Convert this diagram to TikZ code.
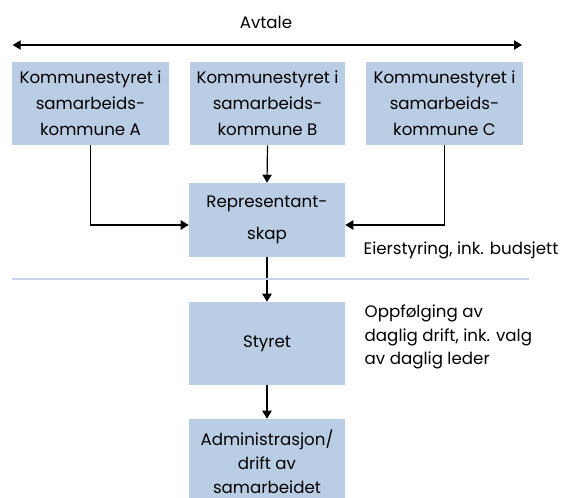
\documentclass[tikz,border=0pt]{standalone}
\usepackage{fontspec}
\setmainfont{Poppins}
\usetikzlibrary{arrows.meta}
\definecolor{boxblue}{RGB}{185,205,229}
\definecolor{sepblue}{RGB}{200,210,236}

\begin{document}
\begin{tikzpicture}[x=0.75pt,y=-0.75pt,
  font=\fontsize{12.5}{19.5}\selectfont,
  box/.style={fill=boxblue, inner sep=0pt, align=center, minimum width=117pt, minimum height=62.25pt},
  arr/.style={line width=0.9pt, -{Triangle[length=6pt,width=7pt]}}]
\useasboundingbox (0,0) rectangle (561,498);
\node (avtale) at (266,22){Avtale};
\coordinate (avL) at (12.7,45);
\coordinate (avR) at (522,45);
\draw[arr, {Triangle[length=6pt,width=7pt]}-{Triangle[length=6pt,width=7pt]}] (avL) -- (avR);
\node[box, minimum width=118pt] (kA) at (90.5,103.5){Kommunestyret i\\samarbeids-\\kommune A};
\node[box, minimum width=116pt] (kB) at (267.5,103.5){Kommunestyret i\\samarbeids-\\kommune B};
\node[box, minimum width=118pt] (kC) at (444.5,103.5){Kommunestyret i\\samarbeids-\\kommune C};
\node[box, minimum height=55.5pt, font=\fontsize{12.5}{24}\selectfont] (rep) at (267,220){Representant-\\skap};
\node[box] (sty) at (267,343.5){Styret};
\node[box, minimum height=64.5pt, font=\fontsize{12.5}{18}\selectfont] (adm) at (267,462){Administrasjon/\\drift av\\samarbeidet};
\draw[arr] (kA.south) |- ([yshift=-3.75pt]rep.west);
\draw[arr] (kB.south) -- (rep.north);
\draw[arr] (kC.south) |- ([yshift=-3.75pt]rep.east);
\draw[arr] (rep.south) -- (sty.north);
\draw[arr] (sty.south) -- (adm.north);
\coordinate (sepL) at (12,279);
\coordinate (sepR) at (529,279);
\draw[sepblue, line width=1pt] (sepL) -- (sepR);
\node[anchor=west] (eier) at (359,250){Eierstyring, ink. budsjett};
\node[anchor=west, align=left, font=\fontsize{12.5}{17.6}\selectfont] (oppf) at (360,337){Oppfølging av\\daglig drift, ink. valg\\av daglig leder};
\end{tikzpicture}
\end{document}
